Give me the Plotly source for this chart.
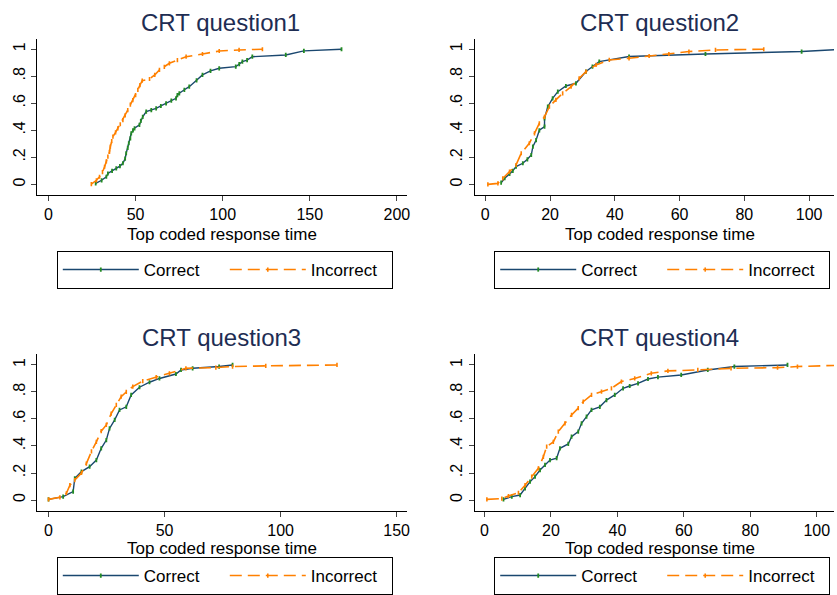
import plotly.graph_objects as go

# ---------------- data ----------------
q1_correct_x = [27.1, 30.5, 33.2, 34.1, 36.5, 38.9, 41.0, 42.7, 44.0, 44.6, 45.5, 46.1, 47.0, 47.5, 48.5, 49.4, 52.2, 53.0, 54.1, 56.1, 59.0, 61.8, 64.5, 67.5, 70.5, 73.2, 74.0, 75.1, 78.0, 80.8, 85.0, 88.4, 93.0, 98.0, 107.5, 109.5, 111.3, 114.0, 117.0, 136.2, 146.6, 168.2]
q1_correct_y = [0.007, 0.03, 0.056, 0.08, 0.10, 0.118, 0.135, 0.156, 0.19, 0.23, 0.27, 0.304, 0.34, 0.378, 0.40, 0.415, 0.44, 0.47, 0.50, 0.538, 0.55, 0.563, 0.58, 0.60, 0.62, 0.637, 0.66, 0.674, 0.70, 0.723, 0.77, 0.81, 0.84, 0.859, 0.871, 0.89, 0.908, 0.92, 0.945, 0.958, 0.988, 1.0]

q1_incorrect_x = [24.6, 27.5, 29.3, 31.0, 32.2, 33.2, 34.1, 35.0, 35.5, 36.3, 37.0, 38.5, 39.8, 41.2, 42.7, 44.0, 45.5, 47.0, 48.4, 50.0, 51.3, 52.5, 53.8, 58.0, 61.0, 63.7, 66.5, 69.4, 74.0, 79.0, 88.4, 98.0, 109.4, 122.8]
q1_incorrect_y = [0.002, 0.03, 0.056, 0.09, 0.13, 0.17, 0.205, 0.24, 0.279, 0.32, 0.353, 0.385, 0.415, 0.445, 0.476, 0.51, 0.55, 0.59, 0.624, 0.66, 0.70, 0.735, 0.768, 0.78, 0.81, 0.847, 0.87, 0.896, 0.92, 0.945, 0.965, 0.987, 0.995, 1.0]

q2_correct_x = [4.9, 6.0, 7.5, 8.5, 9.5, 11.6, 13.0, 14.2, 14.7, 15.7, 16.7, 18.3, 18.3, 19.3, 20.8, 22.4, 24.9, 28.0, 31.1, 33.1, 35.2, 44.4, 68.0, 97.7, 110.0]
q2_correct_y = [0.012, 0.045, 0.077, 0.10, 0.131, 0.156, 0.185, 0.217, 0.279, 0.328, 0.40, 0.427, 0.489, 0.575, 0.637, 0.686, 0.728, 0.748, 0.835, 0.872, 0.909, 0.946, 0.965, 0.983, 1.0]

q2_incorrect_x = [0.8, 3.9, 5.4, 7.5, 9.5, 11.1, 13.6, 15.2, 16.7, 18.3, 19.8, 21.8, 23.9, 26.5, 29.0, 31.1, 34.2, 38.3, 44.4, 50.6, 56.7, 62.9, 71.1, 86.0]
q2_incorrect_y = [0.0, 0.007, 0.044, 0.094, 0.143, 0.23, 0.304, 0.378, 0.452, 0.50, 0.575, 0.625, 0.674, 0.723, 0.785, 0.835, 0.884, 0.921, 0.933, 0.95, 0.965, 0.983, 0.995, 1.0]

q3_correct_x = [0.0, 6.3, 10.6, 11.3, 14.2, 17.7, 20.6, 22.7, 24.9, 26.3, 28.5, 30.6, 33.5, 35.6, 39.2, 43.5, 47.8, 54.9, 57.1, 62.1, 73.5, 79.3]
q3_correct_y = [0.005, 0.025, 0.062, 0.16, 0.21, 0.247, 0.296, 0.383, 0.444, 0.53, 0.593, 0.667, 0.69, 0.778, 0.835, 0.872, 0.90, 0.933, 0.963, 0.975, 0.988, 1.0]

q3_incorrect_x = [0.0, 4.9, 7.7, 9.2, 11.3, 14.2, 16.3, 18.5, 20.6, 22.7, 24.9, 27.0, 29.2, 31.3, 33.5, 36.3, 40.6, 46.4, 52.1, 59.2, 72.1, 79.3, 93.6, 124.3]
q3_incorrect_y = [0.005, 0.02, 0.05, 0.11, 0.148, 0.20, 0.27, 0.36, 0.43, 0.51, 0.556, 0.64, 0.704, 0.765, 0.80, 0.84, 0.88, 0.91, 0.938, 0.975, 0.98, 0.988, 0.993, 1.0]

q4_correct_x = [5.7, 8.2, 10.7, 12.2, 13.7, 15.2, 16.7, 18.2, 19.7, 21.7, 22.7, 25.2, 26.2, 28.2, 29.2, 30.7, 32.2, 34.7, 36.7, 39.2, 41.7, 43.7, 46.2, 49.2, 52.2, 59.2, 67.2, 75.2, 91.2]
q4_correct_y = [0.005, 0.025, 0.037, 0.086, 0.136, 0.173, 0.222, 0.26, 0.296, 0.31, 0.383, 0.415, 0.469, 0.506, 0.568, 0.617, 0.667, 0.69, 0.74, 0.778, 0.827, 0.844, 0.864, 0.896, 0.91, 0.926, 0.963, 0.988, 1.0]

q4_incorrect_x = [0.7, 5.2, 7.2, 10.2, 12.2, 14.2, 16.2, 17.7, 18.7, 20.7, 22.2, 24.2, 26.2, 28.2, 29.7, 32.2, 35.2, 38.2, 41.2, 45.2, 50.2, 55.2, 64.2, 74.2, 88.2, 94.2, 110.0]
q4_incorrect_y = [0.005, 0.01, 0.03, 0.054, 0.11, 0.173, 0.235, 0.32, 0.395, 0.43, 0.506, 0.568, 0.63, 0.68, 0.728, 0.778, 0.802, 0.827, 0.877, 0.90, 0.938, 0.956, 0.963, 0.975, 0.98, 0.988, 1.0]

titles = ["CRT question1", "CRT question2", "CRT question3", "CRT question4"]
x_title = "Top coded response time"
series_names = ["Correct", "Incorrect"]
y_tickvals = [0, 0.2, 0.4, 0.6, 0.8, 1]
y_ticktext = ["0", ".2", ".4", ".6", ".8", "1"]
x_ticks = [[0, 50, 100, 150, 200], [0, 20, 40, 60, 80, 100],
           [0, 50, 100, 150], [0, 20, 40, 60, 80, 100]]

# ---------------- style / layout ----------------
W, H = 837, 595
NAVY = "#1a476f"
GREEN = "#238b23"
ORANGE = "#ff8000"
TITLE_C = "#1e2d53"
FONT = "Liberation Sans, Arial, sans-serif"

panels = [
    dict(cx=q1_correct_x, cy=q1_correct_y, ix=q1_incorrect_x, iy=q1_incorrect_y),
    dict(cx=q2_correct_x, cy=q2_correct_y, ix=q2_incorrect_x, iy=q2_incorrect_y),
    dict(cx=q3_correct_x, cy=q3_correct_y, ix=q3_incorrect_x, iy=q3_incorrect_y),
    dict(cx=q4_correct_x, cy=q4_correct_y, ix=q4_incorrect_x, iy=q4_incorrect_y),
]

# pixel geometry
col_x = [(37.3, 408.3), (476.3, 837.0)]
row_y = [(39.0, 195.0), (354.0, 510.7)]
x_ranges = [[-6.5, 205.7], [-3.3, 107.7], [-4.9, 154.4], [-3.0, 105.2]]
y_ranges = [[-0.079, 1.076], [-0.079, 1.076], [-0.079, 1.081], [-0.079, 1.081]]
title_pos = [(221.7, 22.5), (662, 22.5), (222, 337), (662, 337)]
xtitle_pos = [(223, 234.5), (662, 234.5), (223, 548.5), (662, 548.5)]
# (left px, top px or None -> anchored at bottom of page)
legend_pos = [(57, 251), (496, 251), (57, None), (496, None)]

fig = go.Figure()
layout = dict(width=W, height=H, autosize=False,
              margin=dict(l=0, r=0, t=0, b=0),
              paper_bgcolor="white", plot_bgcolor="white",
              font=dict(family=FONT, size=17, color="black"),
              annotations=[])

for i, p in enumerate(panels):
    n = "" if i == 0 else str(i + 1)
    xa, ya = "x" + n, "y" + n
    lg = "legend" + n
    fig.add_trace(go.Scatter(x=p["cx"], y=p["cy"], mode="lines+markers",
                             name=series_names[0], xaxis=xa, yaxis=ya, legend=lg,
                             line=dict(color=NAVY, width=1.4),
                             marker=dict(color=GREEN, size=3, symbol="line-ns",
                                         line=dict(color=GREEN, width=1.8)),
                             cliponaxis=True))
    fig.add_trace(go.Scatter(x=p["ix"], y=p["iy"], mode="lines+markers",
                             name=series_names[1], xaxis=xa, yaxis=ya, legend=lg,
                             line=dict(color=ORANGE, width=1.6, dash="12px,6px"),
                             marker=dict(color=ORANGE, size=3, symbol="line-ns",
                                         line=dict(color=ORANGE, width=1.6)),
                             cliponaxis=True))
    c, r = i % 2, i // 2
    x0, x1 = col_x[c]
    y0, y1 = row_y[r]
    layout["xaxis" + n] = dict(domain=[x0 / W, x1 / W], range=x_ranges[i], anchor=ya,
                               tickvals=x_ticks[i], showline=True, linecolor="black",
                               linewidth=1, ticks="outside", ticklen=5, tickcolor="#444",
                               showgrid=False, zeroline=False, fixedrange=True,
                               tickfont=dict(size=16))
    layout["yaxis" + n] = dict(domain=[1 - y1 / H, 1 - y0 / H], range=y_ranges[i], anchor=xa,
                               tickvals=y_tickvals, ticktext=y_ticktext, tickangle=-90,
                               showline=True, linecolor="black", linewidth=1,
                               ticks="outside", ticklen=5, tickcolor="#444",
                               showgrid=False, zeroline=False, fixedrange=True,
                               tickfont=dict(size=16))
    tx, ty = title_pos[i]
    layout["annotations"].append(dict(text=titles[i], x=tx / W, y=1 - ty / H,
                                      xref="paper", yref="paper", showarrow=False,
                                      xanchor="center", yanchor="middle",
                                      font=dict(size=24, color=TITLE_C)))
    ax, ay = xtitle_pos[i]
    layout["annotations"].append(dict(text=x_title, x=ax / W, y=1 - ay / H,
                                      xref="paper", yref="paper", showarrow=False,
                                      xanchor="center", yanchor="middle",
                                      font=dict(size=17, color="black")))
    lx, ly = legend_pos[i]
    if ly is None:
        ypos, yanc = 0.0, "bottom"
    else:
        ypos, yanc = 1 - ly / H, "top"
    layout[lg] = dict(x=lx / W, y=ypos, xanchor="left", yanchor=yanc,
                      orientation="h", bgcolor="white", bordercolor="black",
                      borderwidth=1, font=dict(size=17), entrywidth=76,
                      entrywidthmode="pixels", itemwidth=76, traceorder="normal")

fig.update_layout(**layout)
fig.write_html("out.html")
